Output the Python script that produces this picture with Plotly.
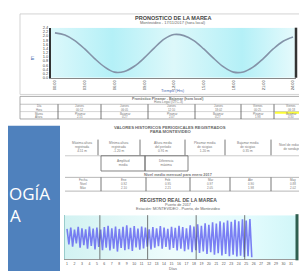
import plotly.graph_objects as go

W, H = 307, 271
def fx(p): return p / W
def fy(p): return 1 - p / H

# ---------------- data ----------------
forecast_hours = list(range(25))
forecast_height = [2.15, 2.05, 1.78, 1.38, 0.92, 0.52, 0.27, 0.30, 0.55, 0.95, 1.42, 1.85, 2.07,
                   2.02, 1.78, 1.38, 0.93, 0.52, 0.27, 0.28, 0.52, 0.92, 1.38, 1.75, 1.95]
forecast_tick_vals = [0, 3, 6, 9, 12, 15, 18, 21, 24]
forecast_tick_text = ["00:00", "03:00", "06:00", "09:00", "12:00", "15:00", "18:00", "21:00", "24:00"]

record_highs = [0.86, 0.90, 0.84, 0.92, 0.88, 0.85, 0.93, 0.87, 0.90, 0.84,
                0.91, 0.95, 0.88, 0.93, 0.86, 0.92, 0.96, 0.89, 0.94, 0.87,
                0.93, 0.90, 0.85, 0.91, 0.88, 0.94, 0.90, 0.86, 0.92, 0.89,
                0.95, 0.91, 0.88, 0.96, 0.93, 0.99, 0.95, 1.02, 0.98, 1.05,
                1.01, 1.08, 1.04, 1.10, 1.06, 1.12, 1.08, 1.13, 1.10, 1.14]
record_lows = [0.42, 0.36, 0.45, 0.33, 0.40, 0.30, 0.38, 0.28, 0.35, 0.26,
               0.33, 0.25, 0.30, 0.22, 0.32, 0.26, 0.29, 0.24, 0.34, 0.27,
               0.31, 0.36, 0.28, 0.33, 0.37, 0.30, 0.35, 0.27, 0.32, 0.25,
               0.30, 0.23, 0.28, 0.20, 0.26, 0.18, 0.22, 0.15, 0.20, 0.13,
               0.17, 0.11, 0.15, 0.09, 0.13, 0.08, 0.10, 0.07, 0.09, 0.06]
record_start_day = 1.0
record_step = 0.5
record_day_labels = [str(d) for d in range(1, 32)]
record_week_marks = [5.4, 11.8, 18.3, 24.8]

table1_title = "Pronóstico Pleamar - Bajamar (hora local)"
table1_sub = "Hora Legal (UTC-3)"
table1_rows = [
    ["Día", "Jueves", "Jueves", "Jueves", "Jueves", "Viernes", "Viernes"],
    ["Hora", "00:12", "06:05", "12:10", "18:02", "00:25", "06:18"],
    ["Marea", "Pleamar", "Bajamar", "Pleamar", "Bajamar", "Pleamar", "Bajamar"],
    ["Altura", "2.15", "0.27", "2.07", "0.27", "1.98", "0.30"],
]
table2_title1 = "VALORES HISTORICOS PERIODICALES REGISTRADOS"
table2_title2 = "PARA MONTEVIDEO"
table2_cells = [
    "Máxima altura<br>registrada<br>4.51 m", "Mínima altura<br>registrada<br>-1.20 m",
    "Altura media<br>del período<br>0.91 m", "Pleamar media<br>de sicigias<br>1.20 m",
    "Bajamar media<br>de sicigias<br>0.35 m", "Nivel de reducción<br>de sondajes",
]
table2_cells_row2 = ["Amplitud<br>media", "Diferencia<br>máxima"]
table3_title = "Nivel medio mensual para enero 2017"
table3_rows = [
    ["Fecha", "Ene", "Feb", "Mar", "Abr", "May"],
    ["Nivel", "0.92", "0.95", "0.97", "0.90", "0.88"],
    ["Máx", "2.10", "2.21", "2.05", "1.98", "2.02"],
]

# ---------------- figure ----------------
fig = go.Figure()

t_x0, t_x1 = -0.4, 24.3
t_y0, t_y1 = 0.0, 2.4
b_x0, b_x1 = 0.73, 31.94
b_y0, b_y1 = 0.0, 1.25

fig.add_trace(go.Scatter(
    x=[t_x0, t_x1, t_x1, t_x0, t_x0], y=[t_y0, t_y0, t_y1, t_y1, t_y0],
    fill="toself", mode="none", hoverinfo="skip", showlegend=False,
    fillgradient=dict(type="horizontal", colorscale=[
        [0, "#dcf8fb"], [0.25, "#b4f0f7"], [0.5, "#ddf8fa"], [0.78, "#b4f0f7"], [1, "#e6fafc"]]),
    xaxis="x", yaxis="y"))
fig.add_trace(go.Scatter(
    x=forecast_hours, y=forecast_height, mode="lines",
    line=dict(color="#8493a8", width=1.6, shape="spline"),
    showlegend=False, xaxis="x", yaxis="y"))

fig.add_trace(go.Scatter(
    x=[b_x0, b_x1, b_x1, b_x0, b_x0], y=[b_y0, b_y0, b_y1, b_y1, b_y0],
    fill="toself", mode="none", hoverinfo="skip", showlegend=False,
    fillgradient=dict(type="horizontal", colorscale=[
        [0, "#d2f2f2"], [0.45, "#eefcfc"], [0.8, "#e2fbfd"], [1, "#d0f6f8"]]),
    xaxis="x2", yaxis="y2"))

rx, ry = [], []
for i, (hv, lv) in enumerate(zip(record_highs, record_lows)):
    d = record_start_day + i * record_step
    rx += [d, d + record_step / 2]
    ry += [hv, lv]
fig.add_trace(go.Scatter(
    x=rx, y=ry, mode="lines", line=dict(color="rgba(85,85,240,0.75)", width=1.6),
    showlegend=False, xaxis="x2", yaxis="y2"))

tick_font = dict(family="Liberation Sans", size=4, color="#444")
fig.update_layout(
    width=W, height=H, margin=dict(l=0, r=0, t=0, b=0),
    paper_bgcolor="white", plot_bgcolor="white", showlegend=False,
    xaxis=dict(domain=[fx(43), fx(288)], range=[t_x0, t_x1], anchor="y",
               tickvals=forecast_tick_vals, ticktext=forecast_tick_text, tickangle=-90,
               tickfont=tick_font, showgrid=False, zeroline=False,
               showline=True, linecolor="#888", linewidth=1, ticks="", ticklen=0),
    yaxis=dict(domain=[fy(68), fy(17)], range=[t_y0, t_y1], anchor="x", dtick=0.2,
               tickformat=".1f", tickfont=tick_font, showgrid=True, gridcolor="#8c8c8c",
               gridwidth=0.6, zeroline=False, showline=True, linecolor="#333", linewidth=2),
    xaxis2=dict(domain=[fx(57), fx(290)], range=[b_x0, b_x1], anchor="y2",
                tickvals=list(range(1, 32)), ticktext=record_day_labels, tickangle=0,
                tickfont=dict(family="Liberation Sans", size=3.5, color="#555"),
                showgrid=False, zeroline=False, showline=True, linecolor="#999", linewidth=1),
    yaxis2=dict(domain=[fy(253), fy(208)], range=[b_y0, b_y1], anchor="x2", dtick=0.25,
                showticklabels=False, showgrid=True, gridcolor="#9aa", gridwidth=0.6,
                zeroline=False, showline=True, linecolor="#9cc", linewidth=1),
)

shapes = []
ann = []

def line(x0, y0, x1, y1, color="#666", width=0.8, layer="above"):
    shapes.append(dict(type="line", xref="paper", yref="paper", x0=fx(x0), y0=fy(y0),
                       x1=fx(x1), y1=fy(y1), line=dict(color=color, width=width), layer=layer))

def rect(x0, y0, x1, y1, fill=None, color="#666", width=0.8, layer="above"):
    d = dict(type="rect", xref="paper", yref="paper", x0=fx(x0), y0=fy(y0), x1=fx(x1), y1=fy(y1),
             line=dict(color=color, width=width), layer=layer)
    if fill:
        d["fillcolor"] = fill
    shapes.append(d)

def text(x, y, s, size=4, color="#777", bold=False, anchor="center", family="Liberation Sans"):
    if bold:
        s = "<b>" + s + "</b>"
    ann.append(dict(x=fx(x), y=fy(y), xref="paper", yref="paper", text=s, showarrow=False,
                    xanchor=anchor, yanchor="middle", borderpad=0,
                    font=dict(size=size, color=color, family=family)))

# top chart frame
rect(12, 3, 300, 85, color="#c8c8c8", width=0.8, layer="below")
line(288, 17, 288, 68, color="#333", width=2.5)
text(165, 7, "PRONOSTICO DE LA MAREA", size=5.5, color="#444", bold=True)
text(165, 12, "Montevideo - 17/11/2017 (hora local)", size=4, color="#666")
ann.append(dict(x=fx(19), y=fy(44), xref="paper", yref="paper", text="m", showarrow=False,
                textangle=-90, font=dict(size=5, color="#4a6ab0", family="Liberation Sans")))
text(165, 81.5, "Tiempo (Hrs)", size=4, color="#4a6ab0")

# table 1
rect(12, 87, 300, 110, color="#888", width=0.7)
text(160, 89.3, table1_title, size=3.6, color="#777", bold=True)
text(160, 92.8, table1_sub, size=3.3, color="#777")
line(12, 95, 300, 95, color="#999", width=0.6)
line(12, 102.5, 300, 102.5, color="#aaa", width=0.5)
col_x = [12, 50, 93, 140, 187, 233, 266, 300]
for cx in col_x[1:-1]:
    line(cx, 95, cx, 110, color="#555", width=0.8)
rect(267, 102.3, 300, 104.7, fill="#ffff33", color="#ffff33", width=0, layer="below")
row_y = [97.0, 100.5, 105.0, 108.5]
for r, ry_ in zip(table1_rows, row_y):
    for c in range(7):
        text((col_x[c] + col_x[c + 1]) / 2, ry_, r[c], size=2.8, color="#777")

# heading 2
text(162, 118.5, table2_title1, size=4.2, color="#666", bold=True)
text(162, 123, table2_title2, size=4.2, color="#666", bold=True)

# table 2
c2 = [57, 90, 132, 177, 217, 263, 305]
for cx in c2[1:-1]:
    line(cx, 131, cx, 147, color="#555", width=0.8)
line(57, 147.5, 300, 147.5, color="#999", width=0.5)
for i, s in enumerate(table2_cells):
    text((c2[i] + c2[i + 1]) / 2, 139, s, size=3.2, color="#777")
rect(93, 147.5, 137, 163, color="#666", width=0.8)
rect(137, 147.5, 180, 163, color="#666", width=0.8)
text(115, 155, table2_cells_row2[0], size=3.2, color="#777")
text(158.5, 155, table2_cells_row2[1], size=3.2, color="#777")

# table 3
text(170, 167, table3_title, size=3.8, color="#777", bold=True)
line(57, 169.5, 307, 169.5, color="#888", width=0.6)
line(57, 183.5, 307, 183.5, color="#888", width=0.6)
c3 = [57, 93, 138, 182, 222, 263, 307]
for cx in c3[1:-1]:
    line(cx, 169.5, cx, 183.5, color="#555", width=0.8)
for r, ry_ in zip(table3_rows, [172.3, 176.5, 180.7]):
    for c in range(6):
        text((c3[c] + c3[c + 1]) / 2, ry_, r[c], size=3.0, color="#777")

# bottom chart titles
text(170, 193, "REGISTRO REAL DE LA MAREA", size=5, color="#555", bold=True)
text(170, 197.5, "Puerto de 2017", size=3.8, color="#666")
text(170, 202, "Estación: MONTEVIDEO - Puerto, de Montevideo", size=3.8, color="#666")
for wm in record_week_marks:
    shapes.append(dict(type="line", xref="x2", yref="paper", x0=wm, x1=wm,
                       y0=fy(253), y1=fy(208), line=dict(color="#555", width=0.8)))
line(289, 207, 289, 254, color="#2f5f50", width=3)
text(165, 263, "Días", size=3.8, color="#666")
line(57, 267.5, 300, 267.5, color="#ccc", width=0.6)

# blue box
rect(0, 117, 52, 271, fill="#4f81bd", color="#4f81bd", width=0)
text(0, 186, "OGÍA", size=17, color="white", anchor="left", family="Open Sans")
text(1, 208, "A", size=17, color="white", anchor="left", family="Open Sans")

fig.update_layout(shapes=shapes, annotations=ann)
fig.write_html("out.html")
